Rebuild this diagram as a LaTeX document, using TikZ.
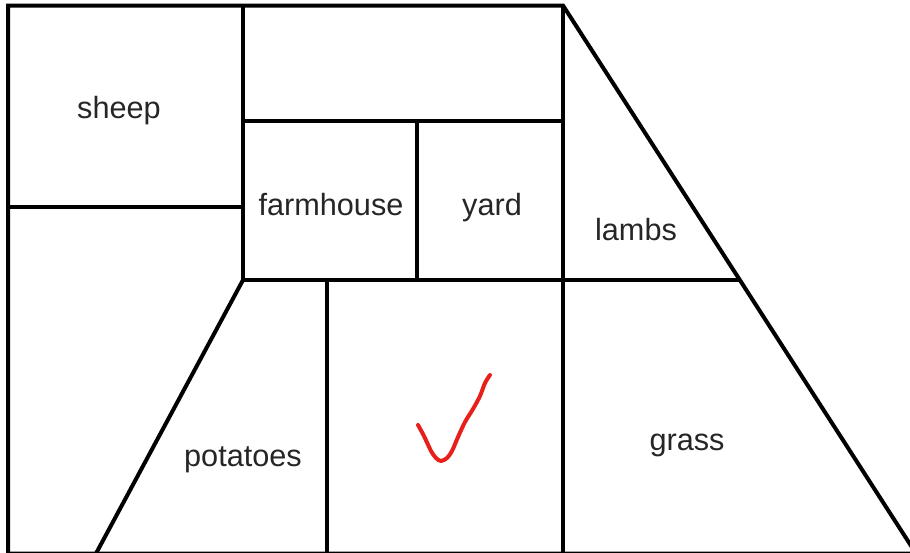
\documentclass[tikz,border=0pt]{standalone}
\usepackage{fontspec}
\setmainfont{Liberation Sans}
\usepackage{xcolor}
\usetikzlibrary{positioning}
\definecolor{lblgray}{HTML}{262626}
\definecolor{tickred}{HTML}{E8201C}
\begin{document}
\begin{tikzpicture}[
  x=0.75pt, y=-0.75pt,
  wall/.style ={draw=black, line width=3pt, line cap=butt, line join=miter},
  lab/.style  ={font=\fontsize{23}{27}\selectfont, text=lblgray, inner sep=0pt, anchor=base},
  tick/.style ={draw=tickred, line width=3pt, line cap=round, line join=round}]

\useasboundingbox (0,0) rectangle (910,553);

% outline
\coordinate (tl) at (8,5.5);
\coordinate (tr) at (563,5.5);
\coordinate (bl) at (8,553.5);
\coordinate (br) at (916,553.5);
\coordinate (bm) at (563,553.5);
\coordinate (cx) at (243,280);
\coordinate (dg) at (740,280);

\draw[wall] (bl) -- (tl) -- (tr) -- (br) -- cycle;
\draw[wall] (tr) -- (bm);

% inner walls
\draw[wall] (243,5.5) -- (cx);
\draw[wall] (8,207) -- (243,207);
\draw[wall] (243,121) -- (563,121);
\draw[wall] (417,121) -- (417,280);
\draw[wall] (cx) -- (dg);
\draw[wall] (cx) -- (96,553.5);
\draw[wall] (327,280) -- (327,553.5);

% field names
\node[lab] (sheep)     at (119,118) {sheep};
\node[lab] (farmhouse) at (331,215) {farmhouse};
\node[lab] (yard)      at (492,215) {yard};
\node[lab] (lambs)     at (636,240) {lambs};
\node[lab] (potatoes)  at (243,466) {potatoes};
\node[lab] (grass)     at (687,450) {grass};

% hand drawn tick
\draw[tick] plot[smooth, tension=0.5] coordinates {(418,425) (424,436) (431,451) (436,458) (441,461) (447,458) (452,451) (458,437) (465,422) (473,409) (480,396) (485,383) (490,375)};
\end{tikzpicture}
\end{document}
